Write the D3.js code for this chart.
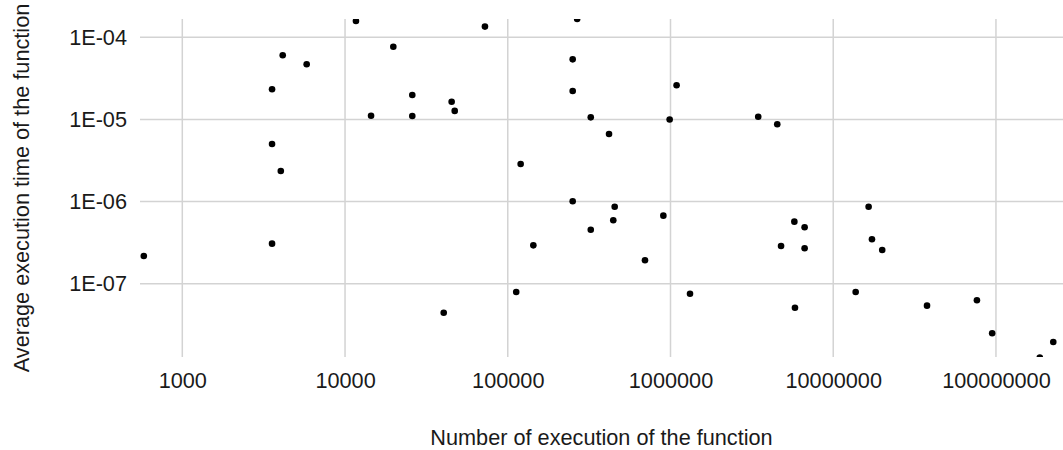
<!DOCTYPE html>
<html>
<head>
<meta charset="utf-8">
<script src="https://cdn.jsdelivr.net/npm/d3@7"></script>
<style>
  body { margin: 0; background: #fff; }
  svg text { font-family: "Liberation Sans", Arial, sans-serif; fill: #1a1a1a; }
  .grid line { stroke: #d3d3d3; stroke-width: 1.5; }
</style>
</head>
<body>
<svg id="chart" width="1063" height="450"></svg>
<script>
// number of calls per function (x) and mean time per call in seconds (y)
const calls = [
  580, 3560, 4140, 5810, 3560, 3560, 4030, 11670, 72400, 267000,
  19800, 250600, 250600, 1090000, 25900, 45200, 47200, 14450, 25900, 323600,
  988000, 419000, 120000, 3460000, 4530000, 250600, 454000, 445000, 323600, 143600,
  904000, 697000, 112700, 40400, 1318000, 16500000, 5770000, 6670000, 17300000, 20000000,
  4780000, 6670000, 13740000, 5820000, 37700000, 76400000, 94800000, 225000000, 186000000
];
const avgTime = [
  2.17e-7, 3.07e-7, 6.04e-5, 4.69e-5, 2.33e-5, 5.02e-6, 2.36e-6, 1.58e-4, 1.35e-4, 1.67e-4,
  7.68e-5, 5.39e-5, 2.22e-5, 2.61e-5, 1.98e-5, 1.64e-5, 1.27e-5, 1.11e-5, 1.10e-5, 1.06e-5,
  1.00e-5, 6.65e-6, 2.86e-6, 1.08e-5, 8.73e-6, 1.007e-6, 8.65e-7, 5.92e-7, 4.54e-7, 2.93e-7,
  6.73e-7, 1.93e-7, 7.92e-8, 4.43e-8, 7.55e-8, 8.65e-7, 5.69e-7, 4.86e-7, 3.47e-7, 2.57e-7,
  2.88e-7, 2.70e-7, 7.92e-8, 5.10e-8, 5.40e-8, 6.28e-8, 2.49e-8, 1.95e-8, 1.26e-8
];

const xTicks = [1e3, 1e4, 1e5, 1e6, 1e7, 1e8];
const xTickLabels = ["1000", "10000", "100000", "1000000", "10000000", "100000000"];
const yTicks = [1e-7, 1e-6, 1e-5, 1e-4];
const yTickLabels = ["1E-07", "1E-06", "1E-05", "1E-04"];

const points = calls.map((c, i) => ({ x: c, y: avgTime[i] }));

const svg = d3.select("#chart");
const plotLeft = 140, plotRight = 1063, plotTop = 19, plotBottom = 357;
const fontSize = "21.7px";

const x = d3.scaleLog().domain([Math.pow(10, 2.740), Math.pow(10, 8.412)]).range([plotLeft, plotRight]);
const y = d3.scaleLog().domain([Math.pow(10, -7.893), Math.pow(10, -3.777)]).range([plotBottom, plotTop]);

svg.append("defs").append("clipPath").attr("id", "plot-clip")
  .append("rect")
  .attr("x", plotLeft).attr("y", plotTop)
  .attr("width", plotRight - plotLeft).attr("height", plotBottom - plotTop);

// grid
const grid = svg.append("g").attr("class", "grid");
grid.selectAll("line.v")
  .data(xTicks)
  .enter()
  .append("line")
  .attr("class", "v")
  .attr("x1", (d) => x(d)).attr("x2", (d) => x(d))
  .attr("y1", plotTop).attr("y2", plotBottom);
grid.selectAll("line.h")
  .data(yTicks)
  .enter()
  .append("line")
  .attr("class", "h")
  .attr("x1", plotLeft).attr("x2", plotRight)
  .attr("y1", (d) => y(d)).attr("y2", (d) => y(d));

// axes (labels only, no domain line or ticks)
const xAxis = svg.append("g")
  .attr("transform", `translate(0,${plotBottom})`)
  .call(d3.axisBottom(x).tickValues(xTicks).tickSize(0).tickPadding(16)
    .tickFormat((d, i) => xTickLabels[i]));
const yAxis = svg.append("g")
  .attr("transform", `translate(${plotLeft},0)`)
  .call(d3.axisLeft(y).tickValues(yTicks).tickSize(0).tickPadding(13)
    .tickFormat((d, i) => yTickLabels[i]));
[xAxis, yAxis].forEach((g) => {
  g.select(".domain").remove();
  g.selectAll("text").style("font-size", fontSize).attr("fill", "#1a1a1a")
    .style("font-family", "'Liberation Sans', Arial, sans-serif");
});

// points
svg.append("g")
  .attr("clip-path", "url(#plot-clip)")
  .selectAll("circle")
  .data(points)
  .enter()
  .append("circle")
  .attr("cx", (d) => x(d.x))
  .attr("cy", (d) => y(d.y))
  .attr("r", 3.3)
  .attr("fill", "#000");

// axis titles
svg.append("text")
  .attr("x", (plotLeft + plotRight) / 2)
  .attr("y", 445)
  .attr("text-anchor", "middle")
  .style("font-size", fontSize)
  .text("Number of execution of the function");

svg.append("text")
  .attr("transform", `translate(29,${(plotTop + plotBottom) / 2}) rotate(-90)`)
  .attr("text-anchor", "middle")
  .style("font-size", fontSize)
  .text("Average execution time of the function");
</script>
</body>
</html>
